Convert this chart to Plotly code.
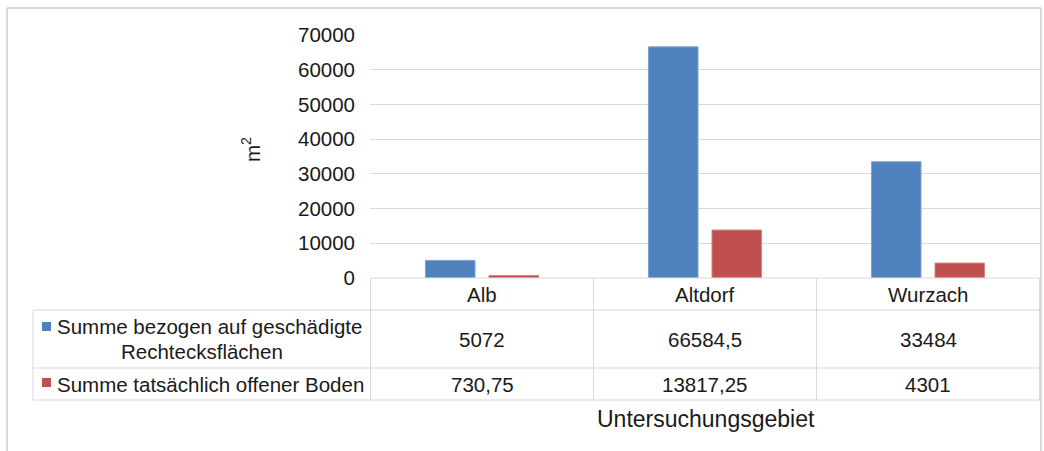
import plotly.graph_objects as go

# data
gebiete = ["Alb", "Altdorf", "Wurzach"]
rechteck = [5072, 66584.5, 33484]
offen = [730.75, 13817.25, 4301]
serien = ["Summe bezogen auf geschädigte Rechtecksflächen",
          "Summe tatsächlich offener Boden"]
y_ticks = [0, 10000, 20000, 30000, 40000, 50000, 60000, 70000]

W, H = 1044, 451
blue = "#4f81bd"
red = "#c0504d"
grid = "#d9d9d9"
txt = "#1a1a1a"
FONT = "Liberation Sans, Arial, sans-serif"


def px(x):  # pixel -> paper x
    return x / W


def py(y):  # pixel -> paper y
    return 1 - y / H


def de(v):  # german number format
    s = f"{v:.2f}".rstrip("0").rstrip(".")
    return s.replace(".", ",")


fig = go.Figure()
fig.add_trace(go.Bar(x=gebiete, y=rechteck, name=serien[0],
                     marker=dict(color=blue, line=dict(color="#7ea3d3", width=1))))
fig.add_trace(go.Bar(x=gebiete, y=offen, name=serien[1],
                     marker=dict(color=red, line=dict(color="#d98583", width=1))))

fig.update_layout(
    width=W, height=H,
    margin=dict(l=0, r=0, t=0, b=0),
    paper_bgcolor="white", plot_bgcolor="white",
    showlegend=False,
    barmode="group", bargap=0.43, bargroupgap=0.22,
    font=dict(family=FONT, size=20.5, color=txt),
)
fig.update_xaxes(domain=[px(370), px(1040)], showticklabels=False,
                 showgrid=False, zeroline=False, showline=False,
                 automargin=False)
fig.update_yaxes(domain=[py(278), py(35)], range=[0, 70000],
                 tickvals=y_ticks, tickformat="d",
                 ticklabelstandoff=14, automargin=False,
                 showgrid=True, gridcolor=grid, gridwidth=1,
                 zeroline=False, showline=False,
                 tickfont=dict(size=20.5, color=txt))

shapes = []


def line(x0, y0, x1, y1, xref="paper", color=grid, width=1):
    shapes.append(dict(type="line", xref=xref, yref="paper",
                       x0=x0, x1=x1, y0=py(y0), y1=py(y1),
                       line=dict(color=color, width=width), layer="above"))


# outer frame (bottom runs off the picture)
line(px(7), 8, px(1041), 8, width=2)
line(px(7), 8, px(7), 460, width=2)
line(px(1041), 8, px(1041), 460, width=2)

# data table
line(-0.5, 278, 2.5, 278, xref="x")
for yy in (310, 368, 400):
    line(px(33), yy, px(1040), yy)
line(px(33), 310, px(33), 400)
for xx in (-0.5, 0.5, 1.5, 2.5):
    line(xx, 278, xx, 400, xref="x")

# legend keys
for (y0, y1), c in (((322, 331), blue), ((378, 387), red)):
    shapes.append(dict(type="rect", xref="paper", yref="paper",
                       x0=px(42), x1=px(51), y0=py(y1), y1=py(y0),
                       fillcolor=c, line=dict(width=0)))

ann = []


def label(text, x, y, xref="paper", **kw):
    ann.append(dict(x=x, xref=xref, y=py(y), yref="paper", text=text,
                    xanchor="center", yanchor="middle", showarrow=False, **kw))


for g in gebiete:
    label(g, g, 294, xref="x")
for g, a, b in zip(gebiete, rechteck, offen):
    label(de(a), g, 339, xref="x")
    label(de(b), g, 384, xref="x")

label("Summe bezogen auf geschädigte", px(209), 326)
label("Rechtecksflächen", px(202), 351)
label(serien[1], px(210), 384)

# axis titles
label("m<sup>2</sup>", px(251), 150, textangle=-90)
label("Untersuchungsgebiet", px(706), 419, font=dict(size=23))

fig.update_layout(shapes=shapes, annotations=ann)

fig.write_html("out.html", config={"displayModeBar": False},
               post_script="document.body.style.margin='0';"
                           "document.body.style.overflow='hidden';")
